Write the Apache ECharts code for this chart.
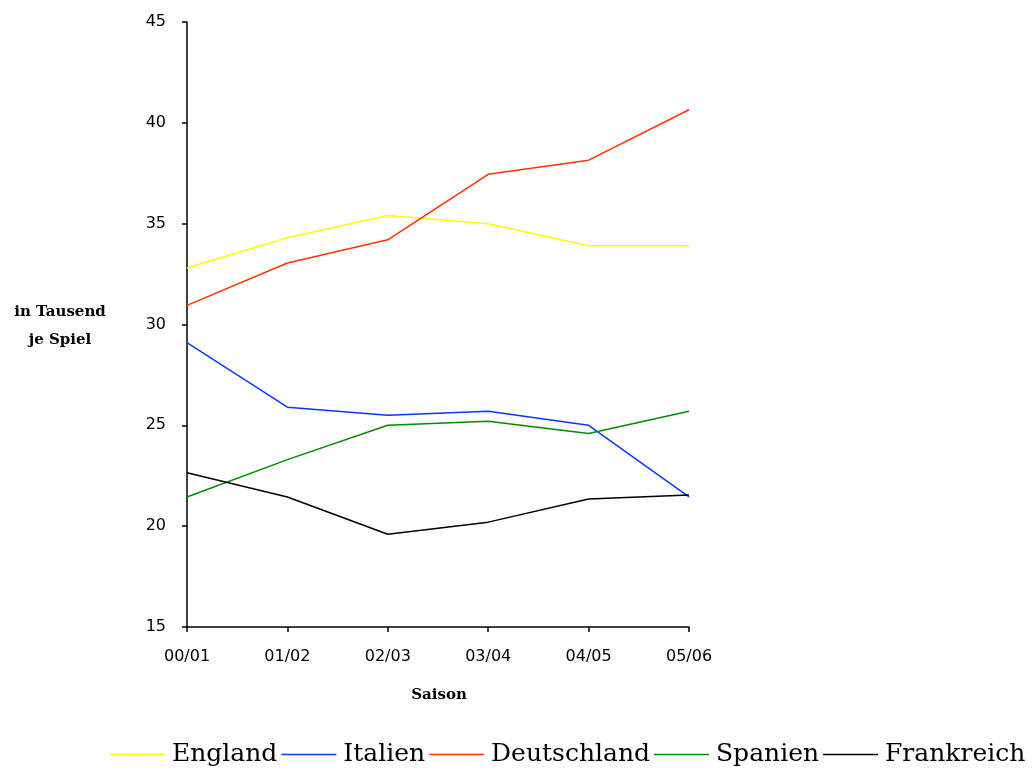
<!DOCTYPE html>
<html>
<head>
<meta charset="utf-8">
<script src="https://cdn.jsdelivr.net/npm/echarts@6/dist/echarts.min.js"></script>
<style>
  html, body { margin: 0; padding: 0; background: #fff; }
  #chart { width: 1036px; height: 769px; }
</style>
</head>
<body>
<div id="chart"></div>
<script>
// Zuschauerschnitt der europäischen Ligen (in Tausend je Spiel)
const seasons = ['00/01', '01/02', '02/03', '03/04', '04/05', '05/06'];
const england     = [32.8, 34.3, 35.4, 35.0, 33.9, 33.9];
const italien     = [29.1, 25.9, 25.5, 25.7, 25.0, 21.45];
const deutschland = [30.95, 33.05, 34.2, 37.45, 38.15, 40.65];
const spanien     = [21.45, 23.3, 25.0, 25.2, 24.6, 25.7];
const frankreich  = [22.65, 21.45, 19.6, 20.2, 21.35, 21.55];

const seriesDefs = [
  { name: 'England', data: england, color: '#FFFF00' },
  { name: 'Italien', data: italien, color: '#0A37FF' },
  { name: 'Deutschland', data: deutschland, color: '#FF3300' },
  { name: 'Spanien', data: spanien, color: '#008C00' },
  { name: 'Frankreich', data: frankreich, color: '#000000' }
];

const chart = echarts.init(document.getElementById('chart'));
chart.setOption({
  animation: false,
  backgroundColor: '#ffffff',
  grid: { left: 187, right: 347, top: 22, bottom: 142 },
  xAxis: {
    type: 'category',
    data: seasons,
    boundaryGap: false,
    axisLine: { lineStyle: { color: '#000', width: 1.5 } },
    axisTick: { show: true, inside: false, length: 5, alignWithLabel: true, lineStyle: { color: '#000', width: 1.5 } },
    axisLabel: { color: '#000', fontFamily: 'DejaVu Sans', fontSize: 16, margin: 22 },
    splitLine: { show: false }
  },
  yAxis: {
    type: 'value',
    min: 15,
    max: 45,
    interval: 5,
    axisLine: { show: true, lineStyle: { color: '#000', width: 1.5 } },
    axisTick: { show: true, inside: false, length: 5, lineStyle: { color: '#000', width: 1.5 } },
    axisLabel: { color: '#000', fontFamily: 'DejaVu Sans', fontSize: 16, margin: 21 },
    splitLine: { show: false }
  },
  legend: {
    left: 110,
    top: 742,
    padding: 0,
    itemWidth: 55,
    itemHeight: 14,
    itemGap: 4,
    icon: 'path://M0,6 L55,6 L55,7.5 L0,7.5 Z',
    textStyle: { fontFamily: 'DejaVu Serif', fontSize: 25, color: '#000', padding: [0, 0, 0, 2] },
    data: seriesDefs.map(s => s.name)
  },
  graphic: [
    {
      type: 'text',
      x: 60,
      y: 298,
      style: {
        text: 'in Tausend\nje Spiel',
        align: 'center',
        fontFamily: 'DejaVu Serif',
        fontWeight: 'bold',
        fontSize: 15,
        lineHeight: 28,
        fill: '#000'
      }
    },
    {
      type: 'text',
      x: 439,
      y: 688,
      style: {
        text: 'Saison',
        align: 'center',
        fontFamily: 'DejaVu Serif',
        fontWeight: 'bold',
        fontSize: 15,
        fill: '#000'
      }
    }
  ],
  series: seriesDefs.map(s => ({
    name: s.name,
    type: 'line',
    data: s.data,
    symbol: 'none',
    color: s.color,
    lineStyle: { color: s.color, width: 1.5 },
    itemStyle: { color: s.color }
  }))
});
</script>
</body>
</html>
